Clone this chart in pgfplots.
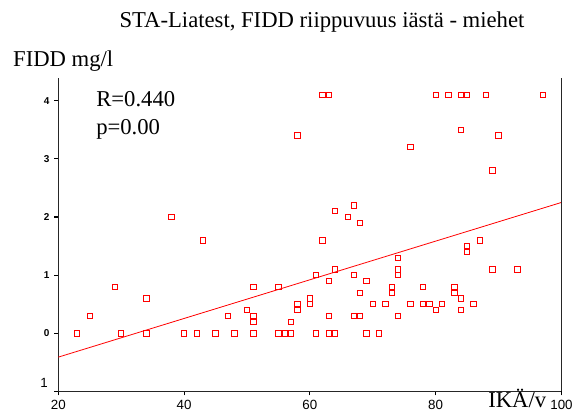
\documentclass[border=0pt]{standalone}
\usepackage{fontspec}
\setmainfont{Liberation Serif}
\setsansfont{Liberation Sans}
\usepackage{pgfplots}
\pgfplotsset{compat=1.18}

\begin{document}
\begin{tikzpicture}
% page frame: 575x416 px at 0.75pt per px, axis corner at origin
\path[use as bounding box] (-43.7pt,-18.4pt) rectangle +(431.25pt,312pt);
\begin{axis}[
    name=ax, at={(0,0)}, anchor=south west,
    scale only axis,
    width=377.4pt, height=235.1pt,
    xmin=20, xmax=100, ymin=-1, ymax=4.39,
    axis x line*=bottom, axis y line*=left,
    axis line style={black!85, line width=0.7pt, -},
    xtick={20,40,60,80,100}, xticklabels={20,40,60,80,100},
    ytick={-1,0,1,2,3,4}, yticklabels={,0,1,2,3,4},
    tick align=outside, major tick length=3pt,
    tick style={black, line width=0.8pt},
    xticklabel style={font=\sffamily\fontsize{10}{10}\selectfont},
    yticklabel style={font=\sffamily\bfseries\fontsize{7.5}{7.5}\selectfont},
    clip=false,
]
% FIDD vs age
\addplot[only marks, mark=square, mark size=2pt, red,
    mark options={draw=red, fill=none, solid, line width=0.6pt}] coordinates {
    (23,0) (25,0.3) (29,0.8) (30,0) (34,0.6) (34,0) (38,2.0) (40,0) (42,0)
    (43,1.6) (45,0) (47,0.3) (48,0) (50,0.4) (51,0.8) (51,0.3) (51,0.2) (51,0)
    (55,0.8) (55,0) (56,0) (57,0) (57,0.2) (58,0.5) (58,0.4) (58,3.4)
    (60,0.6) (60,0.5) (61,1.0) (61,0) (62,1.6) (62,4.1) (63,4.1) (63,0.9)
    (63,0.3) (63,0) (64,2.1) (64,1.1) (64,0) (66,2.0) (67,2.2) (67,1.0)
    (67,0.3) (68,1.9) (68,0.7) (68,0.3) (69,0.9) (69,0) (70,0.5) (71,0)
    (72,0.5) (73,0.8) (73,0.7) (74,1.3) (74,1.1) (74,1.0) (74,0.3) (76,3.2)
    (76,0.5) (78,0.8) (78,0.5) (79,0.5) (80,4.1) (80,0.4) (81,0.5) (82,4.1)
    (83,0.8) (83,0.7) (84,4.1) (84,3.5) (84,0.6) (84,0.4) (85,4.1) (85,1.5)
    (85,1.4) (86,0.5) (87,1.6) (88,4.1) (89,2.8) (89,1.1) (90,3.4) (93,1.1)
    (97,4.1)
};
% fitted line
\addplot[red, line width=0.6pt, no marks] coordinates {(20,-0.41) (100,2.25)};
\end{axis}
\draw[black!85, line width=0.7pt] (ax.south east) -- (ax.north east);

\node[anchor=base, inner sep=0, font=\fontsize{17}{20}\selectfont] at (197.8pt,272.6pt)
    {STA-Liatest, FIDD riippuvuus iästä - miehet};
\node[anchor=base west, inner sep=0, font=\fontsize{17}{20}\selectfont] at (-34pt,243.4pt) {FIDD mg/l};
\node[anchor=base west, inner sep=0, font=\fontsize{17}{20}\selectfont] at (322.3pt,-12pt) {IKÄ/v};
\node[anchor=base west, inner sep=0, font=\fontsize{17}{20}\selectfont] at (28.3pt,213.6pt) {R=0.440};
\node[anchor=base west, inner sep=0, font=\fontsize{17}{20}\selectfont] at (28.3pt,192.4pt) {p=0.00};
\node[anchor=base east, inner sep=0, font=\sffamily\fontsize{10}{10}\selectfont] at (-7.7pt,2.6pt) {1};
\end{tikzpicture}
\end{document}
